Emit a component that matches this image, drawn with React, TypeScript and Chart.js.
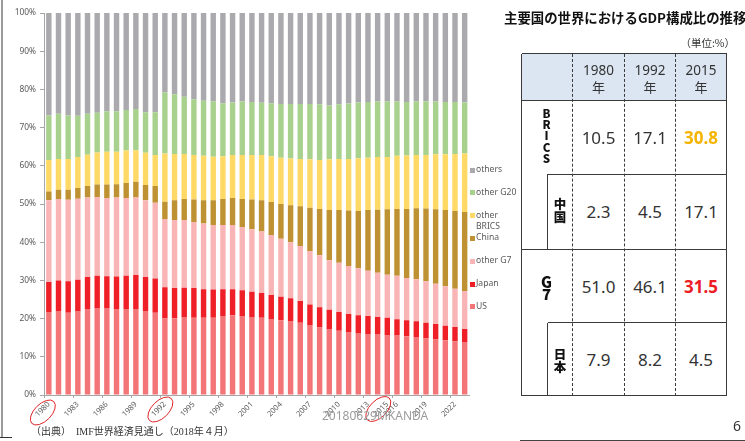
import React, { useEffect, useRef } from "react";
import { Chart, registerables } from "chart.js";

Chart.register(...registerables);

const years = [
  "1980", "1981", "1982", "1983", "1984", "1985", "1986", "1987", "1988", "1989",
  "1990", "1991", "1992", "1993", "1994", "1995", "1996", "1997", "1998", "1999",
  "2000", "2001", "2002", "2003", "2004", "2005", "2006", "2007", "2008", "2009",
  "2010", "2011", "2012", "2013", "2014", "2015", "2016", "2017", "2018", "2019",
  "2020", "2021", "2022", "2023",
];

const usShare = [
  21.7, 22.0, 21.5, 22.0, 22.5, 22.8, 22.8, 22.5, 22.5, 22.5,
  22.0, 21.5, 20.0, 20.1, 20.4, 20.2, 20.2, 20.2, 20.7, 20.9,
  20.7, 20.4, 20.2, 19.9, 19.6, 19.4, 18.9, 18.3, 17.7, 17.3,
  16.8, 16.5, 16.2, 16.0, 16.0, 15.7, 15.7, 15.4, 15.2, 14.8,
  14.5, 14.3, 14.1, 13.9,
];
const japanShare = [
  7.9, 8.0, 8.3, 8.2, 8.4, 8.4, 8.3, 8.5, 8.7, 8.9,
  8.9, 9.0, 8.2, 7.9, 7.7, 7.8, 7.5, 7.4, 7.0, 6.8,
  6.7, 6.6, 6.5, 6.3, 6.1, 5.9, 5.7, 5.4, 5.3, 5.0,
  4.9, 4.7, 4.7, 4.7, 4.4, 4.5, 4.1, 4.2, 4.1, 4.1,
  4.1, 3.8, 3.7, 3.4,
];
const otherG7Share = [
  21.4, 21.3, 21.3, 21.2, 20.8, 20.6, 20.5, 20.7, 20.4, 20.3,
  20.1, 19.8, 17.9, 17.8, 17.7, 17.3, 17.2, 16.9, 16.8, 16.8,
  16.6, 16.4, 16.1, 15.7, 15.2, 14.7, 14.4, 14.0, 13.6, 13.0,
  12.9, 12.6, 12.3, 11.8, 11.6, 11.3, 11.4, 11.0, 11.0, 10.9,
  10.5, 10.4, 10.0, 9.9,
];
const chinaShare = [
  2.3, 2.4, 2.6, 2.8, 3.0, 3.3, 3.5, 3.5, 3.9, 4.1,
  4.0, 4.4, 4.5, 5.2, 5.5, 5.9, 6.1, 6.5, 6.8, 7.1,
  7.3, 7.8, 8.2, 8.6, 9.1, 9.7, 10.4, 11.3, 12.1, 13.1,
  13.8, 14.5, 15.0, 15.9, 16.5, 17.1, 17.5, 18.1, 18.6, 19.0,
  19.5, 19.9, 20.4, 20.7,
];
const otherBricsShare = [
  8.2, 8.1, 8.1, 8.1, 8.2, 8.4, 8.6, 8.5, 8.5, 8.3,
  8.4, 8.1, 12.6, 12.1, 11.8, 11.6, 11.6, 11.4, 11.2, 11.2,
  11.5, 11.6, 11.8, 12.0, 12.1, 12.2, 12.4, 12.7, 12.8, 13.3,
  13.4, 13.5, 13.8, 13.7, 13.8, 13.7, 13.9, 14.0, 13.9, 14.0,
  14.4, 14.6, 14.9, 15.3,
];
const otherG20Share = [
  11.7, 11.8, 11.4, 10.8, 10.7, 10.4, 10.6, 10.6, 10.6, 10.8,
  10.6, 11.2, 16.0, 15.6, 15.0, 14.6, 14.4, 14.5, 13.9, 13.8,
  14.0, 13.9, 13.7, 13.9, 14.1, 14.3, 14.4, 14.5, 14.6, 14.1,
  14.3, 14.5, 14.6, 14.6, 14.5, 14.6, 14.2, 14.0, 14.0, 14.1,
  13.8, 13.7, 13.6, 13.4,
];
const othersShare = [
  26.8, 26.4, 26.8, 26.9, 26.4, 26.1, 25.7, 25.7, 25.4, 25.1,
  26.0, 26.0, 20.8, 21.3, 21.9, 22.6, 23.0, 23.1, 23.6, 23.4,
  23.2, 23.3, 23.5, 23.6, 23.8, 23.8, 23.8, 23.8, 23.9, 24.2,
  23.9, 23.7, 23.4, 23.3, 23.2, 23.1, 23.2, 23.3, 23.2, 23.1,
  23.2, 23.3, 23.3, 23.4,
];

const seriesNames = ["US", "Japan", "other G7", "China", "other BRICS", "other G20", "others"];
const legendNames = ["US", "Japan", "other G7", "China", "other\nBRICS", "other G20", "others"];
const seriesValues = [usShare, japanShare, otherG7Share, chinaShare, otherBricsShare, otherG20Share, othersShare];
const seriesColors = ["#F47577", "#EE1F26", "#F9B5B6", "#BE9232", "#FFD966", "#A9D18E", "#AAAAAE"];

const yTicks = [0, 10, 20, 30, 40, 50, 60, 70, 80, 90, 100];
const markedYears = ["1980", "1992", "2015"];

const tableYears = ["1980", "1992", "2015"];
const tableRowLabels = ["BRICS", "中国", "G7", "日本"];
const bricsValues = ["10.5", "17.1", "30.8"];
const chinaValues = ["2.3", "4.5", "17.1"];
const g7Values = ["51.0", "46.1", "31.5"];
const japanValues = ["7.9", "8.2", "4.5"];

const SANS = "'Noto Sans', 'Noto Sans CJK JP', sans-serif";
const CJK = "'Noto Sans CJK JP', 'Noto Sans', sans-serif";

const ellipsePlugin = {
  id: "marks",
  afterDraw(chart: any) {
    const ctx = chart.ctx;
    const xs = chart.scales.x;
    const bottom = chart.chartArea.bottom;
    const offs: Record<string, [number, number]> = {
      "1980": [-6, 17.5],
      "1992": [-4.5, 14.5],
      "2015": [-9, 14],
    };
    ctx.save();
    ctx.strokeStyle = "#E0262A";
    ctx.lineWidth = 1;
    markedYears.forEach((y) => {
      const i = years.indexOf(y);
      const x = xs.getPixelForValue(i);
      const [dx, dy] = offs[y];
      ctx.beginPath();
      ctx.ellipse(x + dx, bottom + dy, 15.5, 8.5, -Math.PI / 4, 0, Math.PI * 2);
      ctx.stroke();
    });
    ctx.restore();
  },
};

function BarChart() {
  const ref = useRef<HTMLCanvasElement>(null);
  useEffect(() => {
    if (!ref.current) return;
    Chart.defaults.font.family = SANS;
    const chart = new Chart(ref.current, {
      type: "bar",
      data: {
        labels: years,
        datasets: seriesValues.map((vals, i) => ({
          label: seriesNames[i],
          data: vals,
          backgroundColor: seriesColors[i],
          borderWidth: 0,
          barPercentage: 0.56,
          categoryPercentage: 1,
        })),
      },
      options: {
        animation: false,
        responsive: false,
        maintainAspectRatio: false,
        layout: { padding: { top: 13, right: 50.5, left: 0, bottom: 0 } },
        plugins: { legend: { display: false }, tooltip: { enabled: false }, title: { display: false } },
        scales: {
          x: {
            stacked: true,
            border: { color: "#A6A6A6", width: 1 },
            grid: {
              offset: true,
              drawOnChartArea: false,
              tickLength: 3,
              color: (c: any) => (c.index % 3 === 0 ? "#A6A6A6" : "rgba(0,0,0,0)"),
            },
            ticks: {
              autoSkip: false,
              maxRotation: 45,
              minRotation: 45,
              padding: 2,
              color: "#595959",
              font: { size: 7.6, family: SANS },
              callback: (_v: any, i: number) => (i % 3 === 0 || years[i] === "2015" ? years[i] : ""),
            },
            afterFit: (s: any) => {
              s.height = 46;
            },
          },
          y: {
            stacked: true,
            min: 0,
            max: 100,
            border: { color: "#A6A6A6", width: 1 },
            grid: { drawOnChartArea: false, tickLength: 4, color: "#A6A6A6" },
            afterBuildTicks: (s: any) => {
              s.ticks = yTicks.map((v) => ({ value: v }));
            },
            ticks: {
              padding: 4,
              color: "#595959",
              font: { size: 8.4, family: SANS },
              callback: (v: any) => `${v}%`,
            },
            afterFit: (s: any) => {
              s.width = 44;
            },
          },
        },
      },
      plugins: [ellipsePlugin],
    });
    return () => chart.destroy();
  }, []);
  return (
    <canvas
      ref={ref}
      width={520}
      height={441}
      style={{ position: "absolute", left: 0, top: 0, width: 520, height: 441 }}
    />
  );
}

const abs = (s: React.CSSProperties): React.CSSProperties => ({ position: "absolute", ...s });

function Legend() {
  const order = [6, 5, 4, 3, 2, 1, 0];
  return (
    <>
      {order.map((si, k) => {
        const yc = 170 + k * 22.8;
        return (
          <React.Fragment key={si}>
            <div style={abs({ left: 469.5, top: yc - 2.5, width: 5, height: 5, background: seriesColors[si] })} />
            <div
              style={abs({
                left: 476,
                top: yc - 6,
                fontSize: 8.6,
                lineHeight: "11.7px",
                color: "#595959",
                fontFamily: SANS,
                whiteSpace: "pre",
              })}
            >
              {legendNames[si]}
            </div>
          </React.Fragment>
        );
      })}
    </>
  );
}

function VerticalLabel({ text, cx, y0, step, size }: { text: string; cx: number; y0: number; step: number; size: number }) {
  return (
    <>
      {Array.from(text).map((ch, k) => (
        <div
          key={k}
          style={abs({
            left: cx - 10,
            width: 20,
            top: y0 + k * step - size * 0.7,
            textAlign: "center",
            fontSize: size,
            lineHeight: `${size * 1.4}px`,
            fontWeight: 900,
            fontFamily: CJK,
            color: "#111",
          })}
        >
          {ch}
        </div>
      ))}
    </>
  );
}

function DataTable() {
  const L = 521.5, R = 726.5, T = 53.5, H1 = 100.5, R1 = 174, R2 = 249, R3 = 322.5, B = 395.5;
  const C0 = 547.5;
  const cols = [572.5, 624.5, 675.5, 726.5];
  const lineC = "#3a3a3a";
  const hLine = (x1: number, x2: number, y: number, key: string) => (
    <div key={key} style={abs({ left: x1, top: y - 0.5, width: x2 - x1, height: 1, background: lineC })} />
  );
  const vLine = (x: number, y1: number, y2: number, key: string) => (
    <div key={key} style={abs({ left: x - 0.5, top: y1, width: 1, height: y2 - y1, background: lineC })} />
  );
  const dLine = (x: number, key: string) => (
    <div key={key} style={abs({ left: x - 0.5, top: T, width: 0, height: B - T, borderLeft: `1px dashed ${lineC}` })} />
  );
  const rows = [
    { vals: bricsValues, yc: 138 },
    { vals: chinaValues, yc: 211.5 },
    { vals: g7Values, yc: 286.5 },
    { vals: japanValues, yc: 360 },
  ];
  const special: Record<string, string> = { "0-2": "#F5B400", "2-2": "#EE1C25" };
  return (
    <>
      <div style={abs({ left: L, top: T, width: R - L, height: H1 - T, background: "#DCE6F2" })} />
      {tableYears.map((y, i) => {
        const cx = (cols[i] + cols[i + 1]) / 2;
        return (
          <React.Fragment key={y}>
            <div style={abs({ left: cx - 25, width: 50, top: 61, textAlign: "center", fontSize: 13.5, lineHeight: "18px", color: "#333", fontFamily: SANS })}>
              {y}
            </div>
            <div style={abs({ left: cx - 25, width: 50, top: 78, textAlign: "center", fontSize: 13, lineHeight: "18px", color: "#333", fontFamily: CJK })}>
              年
            </div>
          </React.Fragment>
        );
      })}
      {rows.map((r, ri) =>
        r.vals.map((v, ci) => {
          const cx = (cols[ci] + cols[ci + 1]) / 2;
          const sp = special[`${ri}-${ci}`];
          return (
            <div
              key={`${ri}-${ci}`}
              style={abs({
                left: cx - 26,
                width: 52,
                top: r.yc - 12,
                textAlign: "center",
                fontSize: 17,
                lineHeight: "24px",
                fontWeight: sp ? 700 : 400,
                color: sp || "#333",
                fontFamily: SANS,
              })}
            >
              {v}
            </div>
          );
        })
      )}
      <VerticalLabel text={tableRowLabels[0]} cx={546.5} y0={113} step={11.2} size={11.5} />
      <VerticalLabel text={tableRowLabels[1]} cx={560} y0={203.5} step={13.7} size={12.5} />
      <VerticalLabel text={tableRowLabels[2]} cx={546.5} y0={281} step={12.5} size={15} />
      <VerticalLabel text={tableRowLabels[3]} cx={560} y0={353.5} step={13.4} size={12.5} />
      {hLine(L, R, T, "t")}
      {hLine(L, R, H1, "h1")}
      {hLine(C0, R, R1, "r1")}
      {hLine(L, R, R2, "r2")}
      {hLine(C0, R, R3, "r3")}
      {hLine(L, R + 0.5, B, "b")}
      {vLine(L, T, B, "l")}
      {vLine(R, T, B, "r")}
      {vLine(C0, R1, R2, "c0a")}
      {vLine(C0, R3, B, "c0b")}
      {dLine(cols[0], "d1")}
      {dLine(cols[1], "d2")}
      {dLine(cols[2], "d3")}
    </>
  );
}

export default function App() {
  return (
    <div
      style={{
        position: "fixed",
        left: 0,
        top: 0,
        width: 745,
        height: 441,
        background: "#fff",
        overflow: "hidden",
        fontFamily: SANS,
      }}
    >
      <BarChart />
      <div style={abs({ left: 0.5, top: 0, width: 2.5, height: 437, background: "#9A9A9A" })} />
      <div style={abs({ left: 0, top: 436.5, width: 12, height: 1.5, background: "#333" })} />
      <Legend />
      <div
        style={abs({
          left: 504,
          top: 7,
          fontSize: 13.4,
          lineHeight: "20px",
          fontWeight: 700,
          fontFamily: CJK,
          color: "#111",
          whiteSpace: "nowrap",
        })}
      >
        主要国の世界におけるGDP構成比の推移
      </div>
      <div style={abs({ left: 650, width: 85, top: 36, textAlign: "right", fontSize: 10.5, lineHeight: "14px", fontFamily: CJK, color: "#333" })}>
        （単位:%）
      </div>
      <DataTable />
      <div
        style={abs({
          left: 31,
          top: 425,
          fontSize: 10,
          lineHeight: "14px",
          fontFamily: "'Liberation Serif', 'Noto Sans CJK JP', serif",
          color: "#333",
          whiteSpace: "nowrap",
        })}
      >
        （出典）　IMF世界経済見通し（2018年４月）
      </div>
      <div
        style={abs({
          left: 322,
          top: 407,
          fontSize: 12,
          lineHeight: "17px",
          fontFamily: SANS,
          color: "#9C9C9C",
          whiteSpace: "nowrap",
        })}
      >
        20180629MKANDA
      </div>
      <div style={abs({ left: 720, width: 21, top: 416, textAlign: "right", fontSize: 14, lineHeight: "20px", color: "#333", fontFamily: SANS })}>
        6
      </div>
      <div style={abs({ left: 520, top: 439.5, width: 225, height: 1.5, background: "#444" })} />
    </div>
  );
}
